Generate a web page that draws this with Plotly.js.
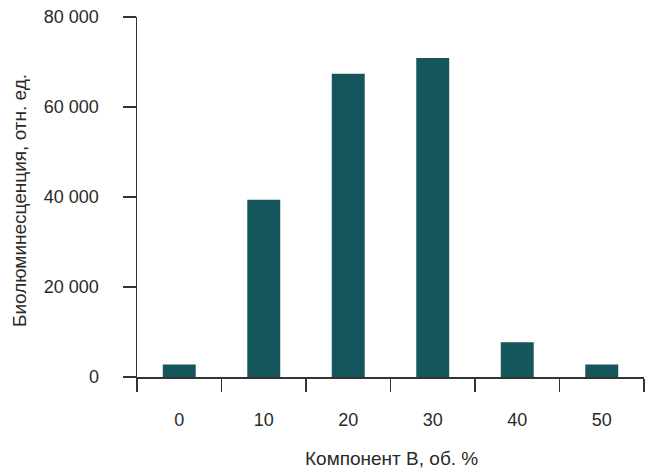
<!DOCTYPE html>
<html>
<head>
<meta charset="utf-8">
<script src="https://cdn.plot.ly/plotly-3.0.1.min.js"></script>
<style>html,body{margin:0;padding:0;background:#fff;}#chart{width:645px;height:471px;}</style>
</head>
<body>
<div id="chart"></div>
<script>
const categories = ['0', '10', '20', '30', '40', '50'];
const values = [2800, 39400, 67400, 70900, 7700, 2800];
const yTickVals = [0, 20000, 40000, 60000, 80000];
const xTitle = 'Компонент B, об. %';
const yTitle = 'Биолюминесценция, отн. ед.';

const axisColor = '#333333';
const textColor = '#2a2a2a';
const fontFamily = '"Liberation Sans", Arial, sans-serif';

Plotly.newPlot('chart', [{
  type: 'bar',
  x: categories,
  y: values,
  marker: {color: '#14565b', line: {width: 0}},
  hoverinfo: 'none'
}], {
  width: 645,
  height: 471,
  margin: {l: 137, r: 1, t: 17, b: 94, pad: 0},
  paper_bgcolor: '#ffffff',
  plot_bgcolor: '#ffffff',
  separators: ', ',
  bargap: 0.61,
  showlegend: false,
  font: {family: fontFamily, size: 18, color: textColor},
  xaxis: {
    type: 'category',
    tickson: 'boundaries',
    ticks: 'outside',
    ticklen: 13,
    tickwidth: 1.5,
    tickcolor: axisColor,
    showline: true,
    linecolor: axisColor,
    linewidth: 1.5,
    showgrid: false,
    zeroline: false,
    ticklabelstandoff: 26,
    tickfont: {size: 18, color: textColor},
    automargin: false
  },
  yaxis: {
    range: [0, 80000],
    tickvals: yTickVals,
    tickformat: ',d',
    ticks: 'outside',
    ticklen: 13,
    tickwidth: 1.5,
    tickcolor: axisColor,
    showline: true,
    linecolor: axisColor,
    linewidth: 1.5,
    showgrid: false,
    zeroline: false,
    ticklabelstandoff: 20,
    tickfont: {size: 18, color: textColor},
    automargin: false
  },
  annotations: [
    {
      text: xTitle, showarrow: false,
      xref: 'paper', yref: 'paper', x: 0.5, y: 0,
      xanchor: 'center', yanchor: 'middle',
      yshift: -81, xshift: 1,
      font: {size: 19, color: textColor}
    },
    {
      text: yTitle, showarrow: false, textangle: -90,
      xref: 'paper', yref: 'paper', x: 0, y: 0.5,
      xanchor: 'center', yanchor: 'middle',
      xshift: -118, yshift: -4,
      font: {size: 19, color: textColor}
    }
  ]
}, {staticPlot: true});
</script>
</body>
</html>
